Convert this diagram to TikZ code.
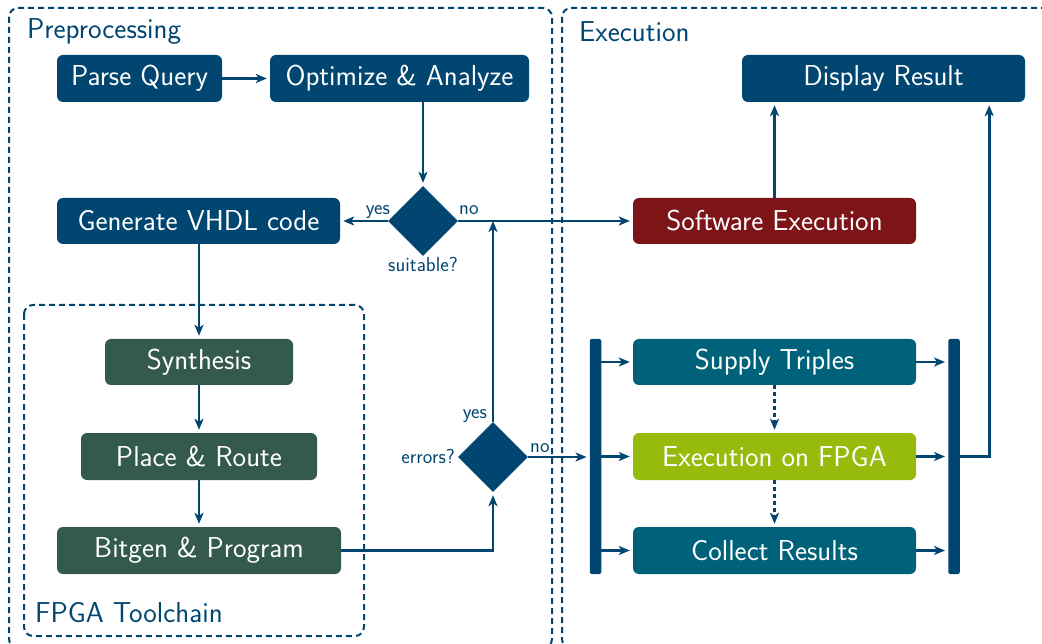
\documentclass[tikz,border=0pt]{standalone}
\usepackage{fontspec}
\usetikzlibrary{shapes.geometric,arrows.meta,calc}
\definecolor{cblue}{RGB}{0,70,112}
\definecolor{cgreen}{RGB}{51,90,74}
\definecolor{cteal}{RGB}{0,98,122}
\definecolor{clime}{RGB}{151,187,13}
\definecolor{cred}{RGB}{125,20,24}
\tikzset{
  box/.style={rounded corners=6pt, text=white, inner sep=0pt, minimum height=47pt,
    font=\sffamily\fontsize{28.8}{33}\selectfont},
  bluebox/.style={box, fill=cblue},
  greenbox/.style={box, fill=cgreen},
  tealbox/.style={box, fill=cteal},
  limebox/.style={box, fill=clime},
  redbox/.style={box, fill=cred},
  decision/.style={diamond, fill=cblue, inner sep=0pt, minimum width=70pt, minimum height=70pt},
  bar/.style={fill=cblue, rounded corners=2pt, inner sep=0pt, minimum width=11.5pt, minimum height=235pt},
  arr/.style={draw=cblue, line width=2.6pt, -{Stealth[length=11pt,width=9pt,inset=3pt]}, shorten >=3pt},
  dotarr/.style={arr, line width=3pt, dash pattern=on 4pt off 3pt},
  group/.style={draw=cblue, line width=2pt, dash pattern=on 6pt off 4pt, rounded corners=9pt},
  title/.style={text=cblue, inner sep=0pt, font=\sffamily\fontsize{28.8}{33}\selectfont},
  lbl/.style={text=cblue, inner sep=0pt, font=\sffamily\fontsize{20.3}{24}\selectfont},
}
\begin{document}
\begin{tikzpicture}[x=1pt,y=-1pt]
\useasboundingbox (0,0) rectangle (1042,644);
\clip (0,0) rectangle (1042,644);
% groups
\draw[group] (9,8) rectangle (552,648);
\draw[group] (562,8) rectangle (1070,648);
\draw[group] (24,305) rectangle (364,636);
\node[title, anchor=base west] (tpre) at (27,39) {Preprocessing};
\node[title, anchor=base west] (texe) at (579,42) {Execution};
\node[title, anchor=base west] (tfpga) at (35,622) {FPGA Toolchain};
% nodes
\node[bluebox, minimum width=165pt] (pq) at (139.5,78.5) {Parse Query};
\node[bluebox, minimum width=259pt] (opt) at (399.5,78.5) {Optimize \& Analyze};
\node[bluebox, minimum width=283pt] (disp) at (883.5,78.5) {Display Result};
\node[bluebox, minimum width=283pt, minimum height=46pt] (vhdl) at (198.5,221) {Generate VHDL code};
\node[decision] (suit) at (423,221) {};
\node[redbox, minimum width=283pt, minimum height=46pt] (sw) at (774.5,221) {Software Execution};
\node[greenbox, minimum width=188pt, minimum height=46pt] (syn) at (199,362) {Synthesis};
\node[greenbox, minimum width=236pt] (pr) at (199,456.5) {Place \& Route};
\node[greenbox, minimum width=284pt] (bit) at (199,550.5) {Bitgen \& Program};
\node[decision] (err) at (493,457) {};
\node[bar] (lbar) at (595.5,456.5) {};
\node[tealbox, minimum width=283pt, minimum height=46pt] (sup) at (774.5,362) {Supply Triples};
\node[limebox, minimum width=283pt] (exe) at (774.5,456.5) {Execution on FPGA};
\node[tealbox, minimum width=283pt] (col) at (774.5,550.5) {Collect Results};
\node[bar] (rbar) at (954,456.5) {};
% labels
\node[lbl, anchor=base east] (lyes1) at (390,215) {yes};
\node[lbl, anchor=base west] (lno1) at (459,215) {no};
\node[lbl, anchor=base] (lsuit) at (423,272) {suitable?};
\node[lbl, anchor=base east] (lyes2) at (487,418) {yes};
\node[lbl, anchor=base east] (lerr) at (455,463) {errors?};
\node[lbl, anchor=base west] (lno2) at (530,452) {no};
% connectors
\draw[arr] (pq) -- (opt);
\draw[arr] (opt.south -| suit) -- (suit.north);
\draw[arr] (suit.west) -- (vhdl.east);
\draw[arr] (suit.east) -- (sw.west);
\draw[arr, shorten >=0pt] (err.north) -- (err |- suit);
\draw[arr] (vhdl.south -| syn) -- (syn.north);
\draw[arr] (syn) -- (pr);
\draw[arr] (pr) -- (bit);
\draw[arr] (bit.east) -| (err.south);
\draw[arr] (err.east) -- (lbar.west |- err);
\draw[arr] (lbar.east |- sup) -- (sup.west);
\draw[arr] (lbar.east |- exe) -- (exe.west);
\draw[arr] (lbar.east |- col) -- (col.west);
\draw[dotarr] (sup) -- (exe);
\draw[dotarr] (exe) -- (col);
\draw[arr] (sup.east) -- (rbar.west |- sup);
\draw[arr] (exe.east) -- (rbar.west |- exe);
\draw[arr] (col.east) -- (rbar.west |- col);
\draw[arr] (rbar.east |- exe) -| ($(disp.south east)+(-36,0)$);
\draw[arr] (sw.north) -- (sw.north |- disp.south);
\end{tikzpicture}
\end{document}
